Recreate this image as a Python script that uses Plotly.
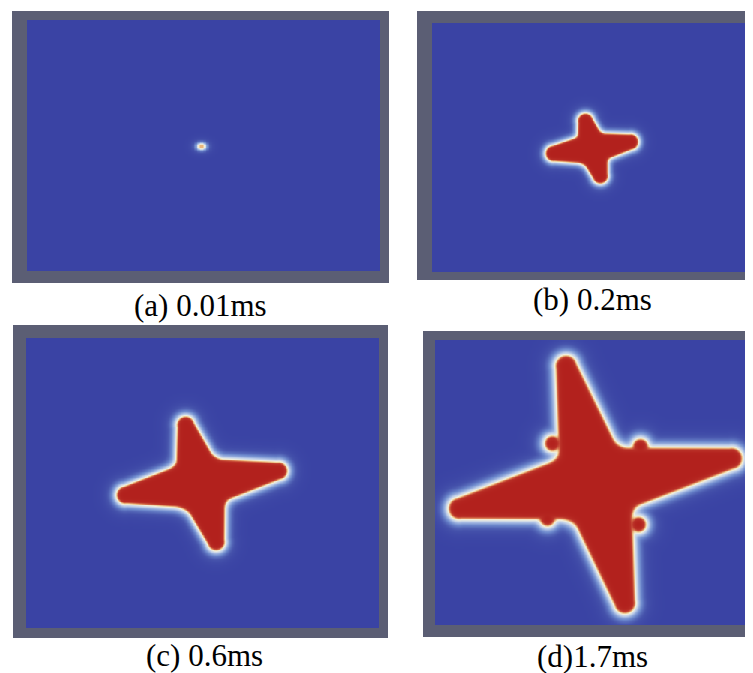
import numpy as np
import plotly.graph_objects as go

W, H = 753, 673
OFF = 8  # the page body has an 8px margin; picture coords are shifted by it

# ---------------- captions ----------------
panel_labels = ["(a) 0.01ms", "(b) 0.2ms", "(c) 0.6ms", "(d)1.7ms"]
label_x = [200, 592, 204, 592]
label_y = [305, 299, 655, 656]

# ---------------- panel frames (picture pixels) ----------------
frame_left = [12, 417, 13, 423]
frame_right = [389, 753, 388, 753]
frame_top = [11, 11, 325, 331]
frame_bottom = [283, 280, 638, 637]
field_left = [27, 432, 26, 435]
field_right = [380, 753, 378, 753]
field_top = [20, 23, 338, 340]
field_bottom = [270, 272, 628, 625]

# ---------------- crystal geometry ----------------
centre_x = [201, 592, 200, 595]
centre_y = [146, 148, 483, 483]
# nucleus (a): half-axes
nucleus_rx = 4.2
nucleus_ry = 3.1
# arm tips of the dendrite, panels b, c, d
tips_b_x = [583, 638, 602, 545]
tips_b_y = [113, 140, 183, 154]
tips_c_x = [183, 287, 218, 116]
tips_c_y = [416, 469, 550, 496]
tips_d_x = [563, 742, 627, 448]
tips_d_y = [355, 456, 613, 510]
arm_root_radius = [0, 16, 26, 37]
arm_tip_radius = [0, 8, 9, 11]
junction_fillet = [0, 4, 7, 10]
inner_width = [1.4, 2.0, 2.4, 3.0]
outer_width = [2.0, 3.2, 4.2, 5.0]
peak_phase = [0.63, 1.0, 1.0, 1.0]
# side-branch bumps in panel d
branch_x = [552, 640, 547, 638]
branch_y = [443, 446, 518, 524]
branch_r = [8, 8, 8, 8]

tips_x = [[], tips_b_x, tips_c_x, tips_d_x]
tips_y = [[], tips_b_y, tips_c_y, tips_d_y]

colorscale = [
    [0.00, "#3a43a4"],
    [0.05, "#4552ab"],
    [0.15, "#6e8acd"],
    [0.30, "#bccdea"],
    [0.45, "#f2efdc"],
    [0.58, "#eec58a"],
    [0.72, "#d46c48"],
    [0.86, "#bb3329"],
    [1.00, "#b2211d"],
]

STEP = 1.5


def smooth_min(a, b, k):
    if k <= 0:
        return np.minimum(a, b)
    h = np.clip(0.5 + 0.5 * (b - a) / k, 0, 1)
    return b * (1 - h) + a * h - k * h * (1 - h)


def phase_field(i):
    xs = np.arange(field_left[i] + STEP / 2, field_right[i], STEP)
    ys = np.arange(field_top[i] + STEP / 2, field_bottom[i], STEP)
    X, Y = np.meshgrid(xs, ys)
    cx, cy = centre_x[i], centre_y[i]
    d = np.full(X.shape, 1e6)
    k = junction_fillet[i]
    if len(tips_x[i]) == 0:
        rr = np.sqrt(((X - cx) / nucleus_rx) ** 2 + ((Y - cy) / nucleus_ry) ** 2)
        d = (rr - 1.0) * min(nucleus_rx, nucleus_ry)
    else:
        r0, r1 = arm_root_radius[i], arm_tip_radius[i]
        for tx, ty in zip(tips_x[i], tips_y[i]):
            vx, vy = tx - cx, ty - cy
            L = np.hypot(vx, vy)
            ux, uy = vx / L, vy / L
            ex, ey = ux * (L - r1), uy * (L - r1)
            seg2 = ex * ex + ey * ey
            t = np.clip(((X - cx) * ex + (Y - cy) * ey) / seg2, 0, 1)
            px, py = cx + t * ex, cy + t * ey
            dist = np.hypot(X - px, Y - py)
            rad = r0 + (r1 - r0) * t
            d = smooth_min(d, dist - rad, k)
        if i == 3:
            for bx, by, br in zip(branch_x, branch_y, branch_r):
                d = smooth_min(d, np.hypot(X - bx, Y - by) - br, 4)
    inside = 0.5 * (1 - np.tanh(d / inner_width[i]))
    outside = 0.5 * np.exp(-np.clip(d, 0, None) / outer_width[i])
    phi = np.where(d < 0, inside, outside) * peak_phase[i]
    return xs, ys, np.round(phi, 3)


def px_x(v):
    return (v - OFF) / W


def px_y(v):
    return 1 - (v - OFF) / H


fig = go.Figure()
for i in range(4):
    xs, ys, z = phase_field(i)
    ax = "" if i == 0 else str(i + 1)
    fig.add_trace(go.Heatmap(
        x=xs, y=ys, z=z, colorscale=colorscale, zmin=0, zmax=1,
        showscale=False, zsmooth="best", hoverinfo="skip",
        xaxis="x" + ax, yaxis="y" + ax,
    ))
    fig.layout["xaxis" + ax] = dict(
        domain=[px_x(frame_left[i]), min(1.0, px_x(frame_right[i]))],
        range=[frame_left[i], frame_right[i]],
        visible=False, fixedrange=True, anchor="y" + ax,
    )
    fig.layout["yaxis" + ax] = dict(
        domain=[px_y(frame_bottom[i]), px_y(frame_top[i])],
        range=[frame_bottom[i], frame_top[i]],
        visible=False, fixedrange=True, anchor="x" + ax,
    )
    fig.add_annotation(
        text=panel_labels[i], xref="paper", yref="paper",
        x=px_x(label_x[i]), y=px_y(label_y[i]),
        xanchor="center", yanchor="middle", showarrow=False,
        font=dict(family="Liberation Serif", size=31, color="black"),
    )

fig.update_layout(
    width=W, height=H, margin=dict(l=0, r=0, t=0, b=0),
    paper_bgcolor="white", plot_bgcolor="#5b5e74",
    showlegend=False,
)
fig.write_html("out.html")
